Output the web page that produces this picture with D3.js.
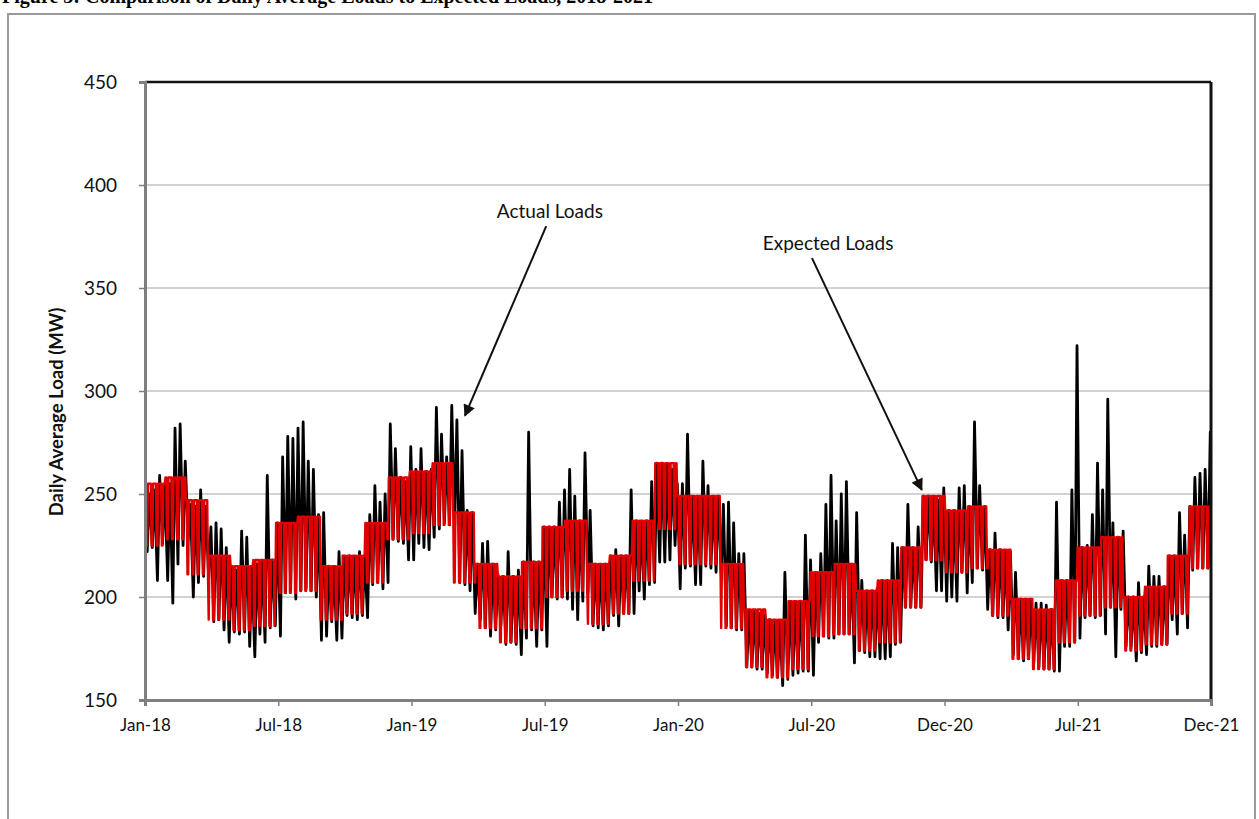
<!DOCTYPE html>
<html><head><meta charset="utf-8">
<script src="https://cdn.jsdelivr.net/npm/d3@7"></script>
<style>body{margin:0;background:#fff;} svg{display:block;}</style>
</head><body>
<svg id="c" width="1259" height="819"></svg>
<script>
// ---------------- DATA ----------------
const yTicks = [150, 200, 250, 300, 350, 400, 450];
const xTickDates = ["2018-01-04","2018-07-05","2019-01-03","2019-07-04","2020-01-02","2020-07-02","2020-12-31","2021-07-01","2021-12-30"];
const xTickLabels = ["Jan-18","Jul-18","Jan-19","Jul-19","Jan-20","Jul-20","Dec-20","Jul-21","Dec-21"];
const seriesStart = "2018-01-04";
const seriesEnd = "2021-12-31";

// Expected loads: monthly weekday level and weekend level (MW), Jan-2018 .. Dec-2021
const expectedWeekday = [
  255,258,247,220,215,218,236,239,215,220,236,258,
  261,265,241,216,210,217,234,237,216,220,237,265,
  249,249,216,194,189,198,212,216,203,208,224,249,
  242,244,223,199,194,208,224,229,200,205,220,244
];
const expectedWeekend = [
  225,228,211,189,184,186,202,203,189,192,207,228,
  231,235,207,185,178,185,200,203,187,192,208,233,
  216,216,185,166,161,165,181,182,174,178,195,218,
  212,214,191,170,165,178,191,195,174,177,192,214
];

// Actual loads: weekly peak (mid-week) and weekly trough (weekend), weeks starting Mon 2018-01-01
const firstWeekMonday = "2018-01-01";
const actualWeekPeak = [
  276,250,252,259,254,255,282,284,266,245,244,252,244,
  234,236,233,224,214,213,232,229,214,216,217,259,218,
  236,268,278,277,282,285,266,262,240,241,215,214,222,
  219,220,219,222,220,240,254,246,250,284,272,258,256,
  273,262,272,261,262,292,279,268,293,286,271,242,241,
  216,226,227,216,211,210,222,210,213,217,280,217,217,
  234,234,234,246,252,262,249,237,270,242,216,215,216,
  220,223,220,220,252,237,236,237,256,265,265,264,262,
  255,255,279,248,248,266,254,248,249,245,246,236,221,
  221,193,193,192,191,189,188,188,212,197,197,198,230,
  218,212,221,245,259,237,250,256,216,241,208,203,203,
  204,208,208,226,224,224,245,224,234,249,249,248,247,253,
  242,242,253,254,244,285,254,244,223,231,223,222,222,
  212,199,198,198,197,197,196,194,246,208,208,252,322,
  224,225,240,265,252,296,236,229,232,200,200,207,200,
  215,210,210,205,220,220,241,230,244,258,260,262,280
];
const actualWeekTrough = [
  222,224,208,226,208,197,216,225,228,200,207,210,209,
  188,189,184,178,183,182,183,176,171,182,178,185,186,
  181,202,203,199,203,204,203,200,179,181,188,179,180,
  191,190,189,191,190,206,207,204,207,228,227,226,218,
  218,226,224,223,229,233,236,235,234,207,206,203,192,
  189,185,181,184,186,177,178,177,172,180,184,176,184,
  176,200,199,200,199,194,189,198,202,186,185,184,186,
  191,186,192,192,192,203,199,206,207,217,217,218,225,
  204,214,215,206,206,215,214,212,211,186,185,184,184,
  166,166,165,165,163,162,161,157,160,162,163,164,164,
  162,178,181,180,180,182,182,182,168,174,173,171,171,
  170,170,171,177,178,195,195,195,195,218,217,203,203,198,
  200,198,212,202,207,214,213,194,191,190,190,184,172,
  170,169,170,168,166,165,165,164,164,176,176,178,180,
  190,191,190,191,182,195,171,194,176,176,169,173,172,
  176,176,177,177,189,182,192,185,213,214,214,214,214
];

// Annotations (date, value) for label and arrow
const annotations = [
  {text: "Actual Loads",   labelDate: "2019-07-11", labelValue: 384, fromDate: "2019-07-06", fromValue: 380, toDate: "2019-03-17", toValue: 288},
  {text: "Expected Loads", labelDate: "2020-07-25", labelValue: 368.5, fromDate: "2020-07-03", fromValue: 364.5, toDate: "2020-11-30", toValue: 252}
];

// ---------------- CHART ----------------
const parse = d3.utcParse("%Y-%m-%d");
const svg = d3.select("#c");
const L = 145, R = 1211, T = 82, B = 700;

const x = d3.scaleUtc().domain([parse(xTickDates[0]), parse(xTickDates[xTickDates.length-1])]).range([L, R]);
const y = d3.scaleLinear().domain([150, 450]).range([B, T]);

// outer frame
svg.append("rect").attr("x", 8).attr("y", 14).attr("width", 1247).attr("height", 830)
  .attr("fill", "none").attr("stroke", "#9a9a9a").attr("stroke-width", 2);

// title (cut off at the top edge, as in the source image)
svg.append("text").attr("x", 2).attr("y", 3)
  .attr("font-family", "Liberation Serif, serif").attr("font-weight", "bold").attr("font-size", 20)
  .text("Figure 3: Comparison of Daily Average Loads to Expected Loads, 2018-2021");

// gridlines
svg.append("g").selectAll("line").data(yTicks.filter(v => v > 150 && v < 450)).join("line")
  .attr("x1", L).attr("x2", R).attr("y1", d => y(d)).attr("y2", d => y(d))
  .attr("stroke", "#a6a6a6").attr("stroke-width", 1.2);

// clip
svg.append("clipPath").attr("id", "clip").append("rect").attr("x", L).attr("y", T).attr("width", R - L).attr("height", B - T);

// expected daily series built from monthly levels
const expected = [];
for (let d = parse(seriesStart); d <= parse(seriesEnd); d = d3.utcDay.offset(d, 1)) {
  const m = (d.getUTCFullYear() - 2018) * 12 + d.getUTCMonth();
  const dow = d.getUTCDay();
  expected.push({date: d, value: (dow === 0 || dow === 6) ? expectedWeekend[m] : expectedWeekday[m]});
}
// actual weekly points
const actual = [];
const mon0 = parse(firstWeekMonday);
actualWeekPeak.forEach((v, k) => {
  actual.push({date: d3.utcDay.offset(mon0, 7 * k + 2), value: v});
  actual.push({date: d3.utcDay.offset(mon0, 7 * k + 6), value: actualWeekTrough[k]});
});

const line = d3.line().x(d => x(d.date)).y(d => y(d.value));
const plot = svg.append("g").attr("clip-path", "url(#clip)");
plot.append("path").datum(actual).attr("d", line).attr("fill", "none")
  .attr("stroke", "#000").attr("stroke-width", 2.8).attr("stroke-linejoin", "round");
plot.append("path").datum(expected).attr("d", line).attr("fill", "none")
  .attr("stroke", "#e00000").attr("stroke-width", 2.4).attr("stroke-linejoin", "round");

// border top/right
svg.append("line").attr("x1", L).attr("x2", R).attr("y1", T).attr("y2", T).attr("stroke", "#111").attr("stroke-width", 2.5);
svg.append("line").attr("x1", R).attr("x2", R).attr("y1", T).attr("y2", B).attr("stroke", "#111").attr("stroke-width", 3);

// axes
const yAxis = d3.axisLeft(y).tickValues(yTicks).tickSize(6).tickPadding(22).tickFormat(d3.format("d"));
const gy = svg.append("g").attr("transform", `translate(${L},0)`).call(yAxis);
gy.select(".domain").attr("stroke", "#7f7f7f").attr("stroke-width", 3);
gy.selectAll(".tick line").attr("stroke", "#7f7f7f").attr("stroke-width", 1.5);
gy.selectAll("text").attr("font-family", "Lato, sans-serif").attr("font-size", 19).attr("fill", "#111");

const xAxis = d3.axisBottom(x).tickValues(xTickDates.map(parse)).tickSize(6).tickPadding(13)
  .tickFormat((d, i) => xTickLabels[i]);
const gx = svg.append("g").attr("transform", `translate(0,${B})`).call(xAxis);
gx.select(".domain").attr("stroke", "#7f7f7f").attr("stroke-width", 3);
gx.selectAll(".tick line").attr("stroke", "#7f7f7f").attr("stroke-width", 1.5);
gx.selectAll("text").attr("font-family", "Lato, sans-serif").attr("font-size", 17).attr("fill", "#111");

// y title
svg.append("text").attr("transform", `translate(63,${(T + B) / 2 + 21}) rotate(-90)`)
  .attr("text-anchor", "middle").attr("font-family", "Lato, sans-serif").attr("font-weight", "bold")
  .attr("font-size", 18.5).attr("fill", "#111").text("Daily Average Load  (MW)");

// annotations
svg.append("defs").append("marker").attr("id", "arr").attr("viewBox", "0 0 10 10")
  .attr("refX", 9).attr("refY", 5).attr("markerWidth", 7).attr("markerHeight", 6)
  .attr("markerUnits", "strokeWidth")
  .attr("orient", "auto").append("path").attr("d", "M0,0 L10,5 L0,10 z").attr("fill", "#111");
annotations.forEach(a => {
  svg.append("text").attr("x", x(parse(a.labelDate))).attr("y", y(a.labelValue))
    .attr("text-anchor", "middle").attr("font-family", "Lato, sans-serif").attr("font-size", 19).attr("fill", "#111").text(a.text);
  svg.append("line").attr("x1", x(parse(a.fromDate))).attr("y1", y(a.fromValue))
    .attr("x2", x(parse(a.toDate))).attr("y2", y(a.toValue))
    .attr("stroke", "#111").attr("stroke-width", 2).attr("marker-end", "url(#arr)");
});
</script>
</body></html>
